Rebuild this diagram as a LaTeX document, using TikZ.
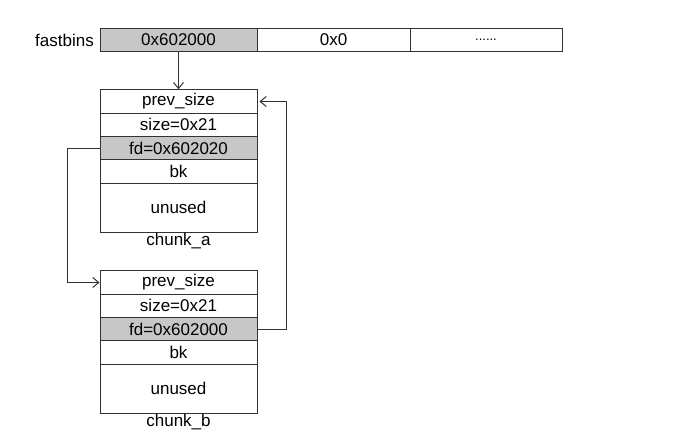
\documentclass[tikz,border=0pt]{standalone}
\usepackage{fontspec}
\setmainfont{Liberation Sans}
\usetikzlibrary{positioning,arrows.meta}
\tikzset{
  cell/.style={draw=black!80, line width=1pt, minimum width=157pt,
    minimum height=23.5pt, inner sep=0pt, font=\fontsize{17}{19}\selectfont},
  hot/.style={cell, fill=black!22},
  link/.style={draw=black!80, line width=1pt, -{Straight Barb[length=6pt,width=10pt]}},
  tag/.style={font=\fontsize{17}{19}\selectfont, inner sep=1pt}
}
\begin{document}
\begin{tikzpicture}[x=1pt,y=-1pt]
  \useasboundingbox (0,0) rectangle (675,435);
  % fastbins array
  \node[tag, anchor=east] (fb) at (95,40) {fastbins};
  \draw
    (178.5,40) node[hot] (f0) {0x602000}
    (333.5,40) node[cell, minimum width=153pt] (f1) {0x0}
    (486,40) node[cell, minimum width=152pt, font=\fontsize{13}{15}\selectfont] (f2) {......};
  % chunk a
  \draw
    (178.5,101.5) node[cell] (a0) {prev\_size}
    (178.5,124.8) node[cell] (a1) {size=0x21}
    (178.5,148.1) node[hot] (a2) {fd=0x602020}
    (178.5,171.4) node[cell] (a3) {bk}
    (178.5,207.6) node[cell, minimum height=49pt] (a4) {unused};
  \node[tag, below=-1pt of a4] (la) {chunk\_a};
  % chunk b
  \draw
    (178.5,282.5) node[cell] (b0) {prev\_size}
    (178.5,305.8) node[cell] (b1) {size=0x21}
    (178.5,329.1) node[hot] (b2) {fd=0x602000}
    (178.5,352.4) node[cell] (b3) {bk}
    (178.5,388.6) node[cell, minimum height=49pt] (b4) {unused};
  \node[tag, below=-1pt of b4] (lb) {chunk\_b};
  % links
  \draw[link] (f0.south) to (a0.north);
  \draw[link] (a2.west) -- ++(-32,0) |- (b0.west);
  \draw[link] (b2.east) -- ++(29,0) |- ([xshift=2pt]a0.east);
\end{tikzpicture}
\end{document}
